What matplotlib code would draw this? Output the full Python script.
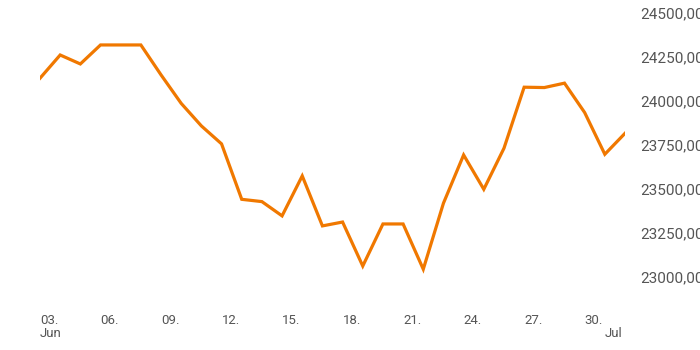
import matplotlib
matplotlib.use("Agg")
import matplotlib.pyplot as plt
import matplotlib.dates as mdates
import numpy as np
import datetime as dt

# Daily closing values, 03 Jun - 02 Jul
start_date = dt.date(2019, 6, 3)
values = [24129, 24261, 24210, 24318, 24318, 24318, 24148, 23986, 23858, 23756,
          23441, 23428, 23347, 23574, 23290, 23312, 23062, 23301, 23301, 23044,
          23419, 23693, 23498, 23731, 24078, 24076, 24101, 23934, 23697, 23816]
dates = [start_date + dt.timedelta(days=i) for i in range(len(values))]

y_ticks = [23000, 23250, 23500, 23750, 24000, 24250, 24500]
x_tick_days = [3, 6, 9, 12, 15, 18, 21, 24, 27, 30]

plt.rcParams['font.family'] = ['Roboto', 'DejaVu Sans']

fig = plt.figure(figsize=(7, 3.5), dpi=100)
# Plot area placed to match the reference pixel layout.
ax = fig.add_axes([40 / 700, 50 / 350, 585 / 700, 295 / 350])

ax.plot(dates, values, color="#F07800", linewidth=2.3, solid_joinstyle="miter")

ax.set_xlim(dates[0], dates[-1])
ax.set_ylim(22869, 24545)

for spine in ax.spines.values():
    spine.set_visible(False)

# Y axis on the right, comma decimal labels (cut off at the figure edge).
ax.yaxis.tick_right()
ax.set_yticks(y_ticks)
ax.set_yticklabels(["{:.2f}".format(v).replace(".", ",") for v in y_ticks])
ax.tick_params(axis="y", length=0, pad=11, labelsize=11, labelcolor="#555555")

# X axis: left-aligned day labels, month name on a second line.
ticks = [dt.date(2019, 6, d) for d in x_tick_days] + [dt.date(2019, 7, 1)]
labels = []
for d in ticks:
    if d.day == 3:
        labels.append("03.\nJun")
    elif d.month == 7:
        labels.append("\nJul")
    else:
        labels.append("{:02d}.".format(d.day))
ax.set_xticks([mdates.date2num(d) for d in ticks])
ax.set_xticklabels(labels, ha="left", va="top", linespacing=1.05)
ax.tick_params(axis="x", length=0, pad=10, labelsize=9.5, labelcolor="#555555")

fig.savefig("out.png", dpi=100)
